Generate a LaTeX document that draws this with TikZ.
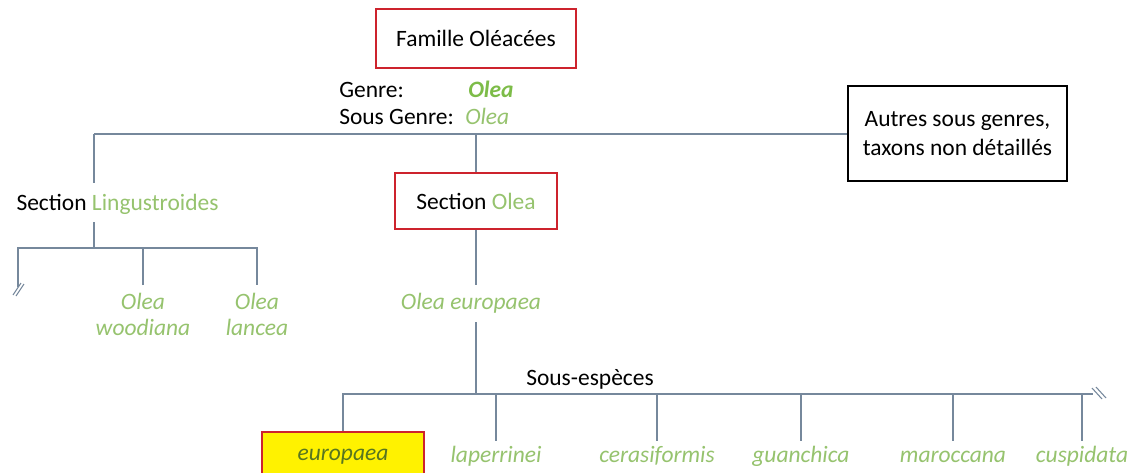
\documentclass[tikz,border=0pt]{standalone}
\usepackage{fontspec}
\setmainfont{Carlito}
\newcommand{\treefont}{\fontsize{17.6}{19.5}\selectfont}
\definecolor{linegray}{RGB}{118,136,156}
\definecolor{boxred}{RGB}{205,35,45}
\definecolor{oleagreen}{RGB}{150,195,110}
\definecolor{genregreen}{RGB}{125,188,72}
\definecolor{olivetext}{RGB}{88,118,32}
\tikzset{
  branch/.style={draw=linegray, line width=1.1pt},
  redbox/.style={draw=boxred, line width=1.6pt, inner sep=0pt},
  leaf/.style={font=\treefont\itshape, text=oleagreen, inner sep=0pt, anchor=base, text height=16pt},
}

\begin{document}
\begin{tikzpicture}[x=0.75pt, y=-0.75pt, font=\treefont]
  \useasboundingbox (0,0) rectangle (1140,472);
  \clip (0,0) rectangle (1140,472);
  \fill[white] (0,0) rectangle (1140,472);

  % family and genus
  \node[redbox, minimum width=150pt, minimum height=44pt] (famille) at (476,38.5) {Famille Oléacées};
  \node[anchor=base west, inner sep=0pt] (genre) at (339,97.6) {Genre:};
  \node[anchor=base west, inner sep=0pt, text=genregreen] (genreval) at (468,97.6) {\textbf{\textit{Olea}}};
  \node[anchor=base west, inner sep=0pt] (sousgenre) at (339,124.6) {Sous Genre:};
  \node[anchor=base west, inner sep=0pt, text=oleagreen] (sousgenreval) at (465,124.6) {\textit{Olea}};

  % other subgenera
  \node[draw=black, line width=1.6pt, minimum width=164pt, minimum height=71pt, align=center] (autres) at (957.5,133.5) {Autres sous genres,\\[2.5pt]taxons non détaillés};
  \coordinate (jtop) at (476,134);
  \coordinate (jleft) at (94,134);
  \draw[branch] (jleft) -- (jleft -| autres.west);

  % section Lingustroides
  \node[inner sep=0pt, anchor=base, text height=20.7pt, text depth=8.5pt] (lingu) at (117.5,210.6) {Section \textcolor{oleagreen}{Lingustroides}};
  \coordinate (jlingu) at (94,248);
  \coordinate (brkl) at (18,287);
  \node[leaf, anchor=north, align=center, text height=, inner ysep=6pt] (woodiana) at (143,285) {Olea\\woodiana};
  \node[leaf, anchor=north, align=center, text height=, inner ysep=6pt] (lancea) at (257,285) {Olea\\lancea};
  \draw[branch] (jleft) -- (jleft |- lingu.north);
  \draw[branch] (jlingu |- lingu.south) -- (jlingu);
  \draw[branch] (brkl) |- (jlingu) -| (lancea.north);
  \draw[branch] (woodiana.north) -- (woodiana.north |- jlingu);
  \draw[branch, line width=0.8pt] (brkl) ++(-5,8) -- ++(8,-12) (brkl) ++(-2,9) -- ++(8,-12);

  % section Olea
  \node[redbox, minimum width=121pt, minimum height=42pt] (sectolea) at (476,201) {Section \textcolor{oleagreen}{Olea}};
  \draw[branch] (jtop) -- (jtop |- sectolea.north);
  \node[leaf, text height=18.5pt, text depth=9.3pt] (oleaeur) at (471,309.6) {Olea europaea};
  \draw[branch] (sectolea.south -| jtop) -- (jtop |- oleaeur.north);
  \coordinate (jsub) at (476,394);
  \draw[branch] (oleaeur.south -| jsub) -- (jsub);
  \node[anchor=base, inner sep=0pt] (sousesp) at (590,385.6) {Sous-espèces};

  % subspecies
  \node[redbox, fill=yellow, minimum width=122pt, minimum height=37.5pt, text=olivetext, font=\treefont\itshape] (europaea) at (343,457) {europaea};
  \coordinate (brkr) at (1093,394);
  \draw[branch] (europaea.north) |- (brkr);
  \foreach \x/\sp [count=\k] in {496/laperrinei, 657/cerasiformis, 801/guanchica, 953/maroccana, 1082/cuspidata} {
    \node[leaf] (sp\k) at (\x,462.5) {\sp};
    \draw[branch] (sp\k.north) -- (sp\k.north |- jsub);
  }
  \draw[branch, line width=0.8pt] (brkr) ++(-1,-6) -- ++(10,11) (brkr) ++(3,-7) -- ++(10,11);
\end{tikzpicture}
\end{document}
